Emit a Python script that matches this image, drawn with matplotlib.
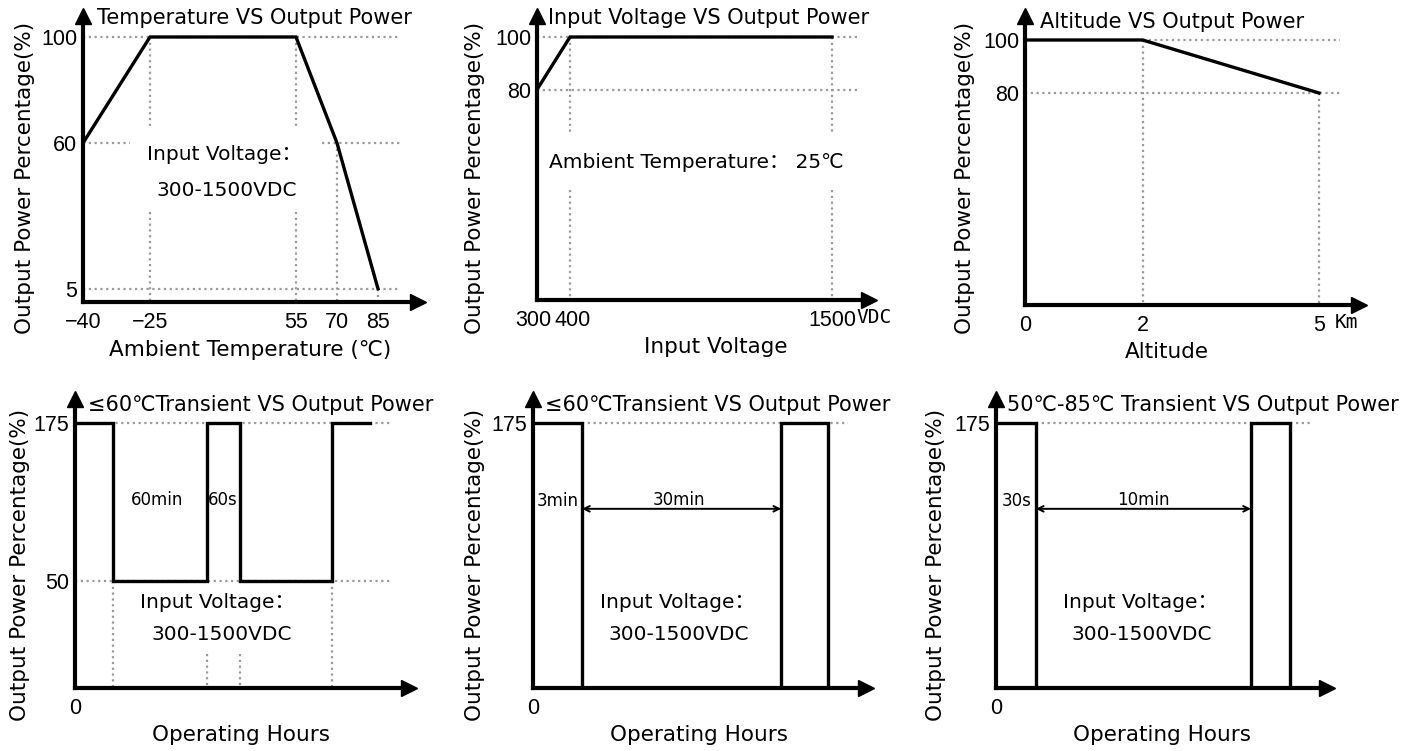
import numpy as np
import matplotlib.pyplot as plt
import matplotlib.transforms as mtransforms

W, H = 1416, 751

# ---------- DATA ----------
temp_x = [-40, -25, 55, 70, 85]
temp_y = [60, 100, 100, 60, 5]
temp_yticks = [5, 60, 100]

volt_x = [300, 400, 1500]
volt_y = [80, 100, 100]
volt_yticks = [80, 100]

alt_x = [0, 2, 5]
alt_y = [100, 100, 80]
alt_xticks = [0, 2, 5]
alt_yticks = [80, 100]

# transient profiles, schematic time units (step after each point)
tr1_t = [0, 1.0, 3.47, 4.34, 6.76, 7.76]
tr1_p = [175, 50, 175, 50, 175, 175]
tr1_notes = ["60min", "60s"]

tr2_t = [0, 1.29, 6.53, 7.76]
tr2_p = [175, 0, 175, 0]
tr2_notes = ["3min", "30min"]

tr3_t = [0, 1.05, 6.71, 7.74]
tr3_p = [175, 0, 175, 0]
tr3_notes = ["30s", "10min"]

tr_yticks = [50, 175]

# ---------- STYLE ----------
plt.rcParams['font.family'] = ['DejaVu Sans', 'Noto Sans CJK SC']
NUM_FONT = 'Liberation Sans'
MONO_FONT = 'DejaVu Sans Mono'
DOT = dict(color='#9a9a9a', lw=1.6, ls=(0, (1, 1.6)), zorder=1)
CURVE = dict(color='black', lw=2.4, zorder=3, solid_joinstyle='miter')
YLAB = "Output Power Percentage(%)"
TITLE_FS = 15
LABEL_FS = 15.5
NOTE_FS = 14.5


def px(x, y):
    return x / W, 1 - y / H


def knots(vals, pos):
    v = np.asarray(vals, float)
    p = np.asarray(pos, float)

    def ext(x, a, b):
        x = np.asarray(x, float)
        y = np.interp(x, a, b)
        s0 = (b[1] - b[0]) / (a[1] - a[0])
        s1 = (b[-1] - b[-2]) / (a[-1] - a[-2])
        y = np.where(x < a[0], b[0] + (x - a[0]) * s0, y)
        y = np.where(x > a[-1], b[-1] + (x - a[-1]) * s1, y)
        return y
    return (lambda x: ext(x, v, p)), (lambda x: ext(x, p, v))


def make_axes(fig, ox, oy, w, h):
    ax = fig.add_axes([ox / W, 1 - oy / H, w / W, h / H])
    for s in ['top', 'right']:
        ax.spines[s].set_visible(False)
    for s in ['left', 'bottom']:
        ax.spines[s].set_linewidth(3)
        ax.spines[s].set_capstyle('projecting')
    ax.plot(1, 0, '>k', ms=12, transform=ax.transAxes, clip_on=False)
    ax.plot(0, 1, '^k', ms=12, transform=ax.transAxes, clip_on=False)
    ax.tick_params(length=0, pad=4)
    ax.patch.set_alpha(0)
    return ax


def ticks(ax, xt, xl, yt, yl):
    ax.set_xticks(xt, xl, fontfamily=NUM_FONT, fontsize=15.5)
    ax.set_yticks(yt, yl, fontfamily=NUM_FONT, fontsize=15.5)
    ax.tick_params(axis='x', pad=7)
    ax.tick_params(axis='y', pad=4)


def nudge(label, dx_px):
    off = mtransforms.ScaledTranslation(dx_px / 100, 0, fig.dpi_scale_trans)
    label.set_transform(label.get_transform() + off)


fig = plt.figure(figsize=(W / 100, H / 100), dpi=100)

# ---------- PANEL 1: temperature ----------
w, h = 335, 286
ax = make_axes(fig, 83, 302, w, h)
fwd, inv = knots(temp_x, [0, 67, 213, 254, 295])
ax.set_xscale('function', functions=(fwd, inv))
ax.set_xlim(float(inv(0)), float(inv(w)))
ax.set_ylim(0, h / 2.65)
ax.plot(temp_x, temp_y, **CURVE)
end = 317 / w
ax.plot([0, end], [100, 100], transform=ax.get_yaxis_transform(), **DOT)
ax.plot([0, end], [5, 5], transform=ax.get_yaxis_transform(), **DOT)
ax.plot([0, 47 / w], [60, 60], transform=ax.get_yaxis_transform(), **DOT)
ax.plot([239 / w, end], [60, 60], transform=ax.get_yaxis_transform(), **DOT)
for x in [-25, 55]:
    ax.plot([x, x], [100, 66], **DOT)
    ax.plot([x, x], [34, 0], **DOT)
ax.plot([70, 70], [60, 0], **DOT)
ax.plot([85, 85], [5, 0], **DOT)
ticks(ax, temp_x, ["\u221240", "\u221225", "55", "70", "85"], temp_yticks,
      [str(v) for v in temp_yticks])
fig.text(*px(97, 18), "Temperature VS Output Power", fontsize=TITLE_FS, va='center')
fig.text(*px(25, 178), YLAB, fontsize=LABEL_FS, rotation=90, ha='center', va='center')
fig.text(*px(250, 350), "Ambient Temperature (\u2103)", fontsize=LABEL_FS, ha='center', va='center')
fig.text(*px(224, 155), "Input Voltage\uff1a", fontsize=NOTE_FS, ha='center', va='center')
fig.text(*px(227, 190), "300-1500VDC", fontsize=NOTE_FS, ha='center', va='center')

# ---------- PANEL 2: input voltage ----------
w, h = 332, 284
ax = make_axes(fig, 537, 300, w, h)
fwd, inv = knots(volt_x, [0, 33, 295])
ax.set_xscale('function', functions=(fwd, inv))
ax.set_xlim(float(inv(0)), float(inv(w)))
ax.set_ylim(0, h / 2.63)
ax.plot(volt_x, volt_y, **CURVE)
end = 321 / w
for y in volt_yticks:
    ax.plot([0, end], [y, y], transform=ax.get_yaxis_transform(), **DOT)
for x in volt_x[1:]:
    ax.plot([x, x], [100, 63], **DOT)
    ax.plot([x, x], [42, 0], **DOT)
ticks(ax, volt_x, ["300", "400", "1500"], volt_yticks, [str(v) for v in volt_yticks])
xl = ax.get_xticklabels()
nudge(xl[0], -4)
nudge(xl[1], 3)
ax.annotate("VDC", xy=(1500, 0), xycoords=('data', 'axes fraction'), xytext=(17.5, -6),
            textcoords='offset points', ha='left', va='top', fontsize=14,
            fontfamily=MONO_FONT)
fig.text(*px(548, 18), "Input Voltage VS Output Power", fontsize=TITLE_FS, va='center')
fig.text(*px(475, 178), YLAB, fontsize=LABEL_FS, rotation=90, ha='center', va='center')
fig.text(*px(716, 347), "Input Voltage", fontsize=LABEL_FS, ha='center', va='center')
fig.text(*px(549, 162), "Ambient Temperature\uff1a 25\u2103", fontsize=NOTE_FS, va='center')

# ---------- PANEL 3: altitude ----------
w, h = 334, 289
ax = make_axes(fig, 1025, 305, w, h)
ax.set_xlim(0, w / 58.8)
ax.set_ylim(0, h / 2.65)
ax.plot(alt_x, alt_y, **CURVE)
end = 315 / w
ax.plot([2 / (w / 58.8), end], [100, 100], transform=ax.get_yaxis_transform(), **DOT)
ax.plot([0, end], [80, 80], transform=ax.get_yaxis_transform(), **DOT)
ax.plot([2, 2], [100, 0], **DOT)
ax.plot([5, 5], [80, 0], **DOT)
ticks(ax, alt_xticks, [str(v) for v in alt_xticks], alt_yticks, [str(v) for v in alt_yticks])
ax.annotate("Km", xy=(5, 0), xycoords=('data', 'axes fraction'), xytext=(11, -6),
            textcoords='offset points', ha='left', va='top', fontsize=14,
            fontfamily=MONO_FONT)
fig.text(*px(1040, 22), "Altitude VS Output Power", fontsize=TITLE_FS, va='center')
fig.text(*px(965, 178), YLAB, fontsize=LABEL_FS, rotation=90, ha='center', va='center')
fig.text(*px(1167, 352), "Altitude", fontsize=LABEL_FS, ha='center', va='center')

# ---------- BOTTOM PANELS: transient ----------
tr_fwd, tr_inv = knots([0, 50, 175], [0, 107, 265])


def transient_axes(ox, w, h=289):
    ax = make_axes(fig, ox, 688, w, h)
    ax.set_yscale('function', functions=(tr_fwd, tr_inv))
    ax.set_ylim(0, float(tr_inv(h)))
    ax.set_xlim(0, w / 38)
    return ax


# panel 4
w = 334
ax = transient_axes(75, w)
ax.step(tr1_t, tr1_p, where='post', **CURVE)
end = 315 / w
ax.plot([0, end], [175, 175], transform=ax.get_yaxis_transform(), **DOT)
ax.plot([0, end], [50, 50], transform=ax.get_yaxis_transform(), **DOT)
ax.plot([tr1_t[1]] * 2, [50, 0], **DOT)
ax.plot([tr1_t[4]] * 2, [50, 0], **DOT)
for x in tr1_t[2:4]:
    ax.plot([x, x], [16, 0], **DOT)
ticks(ax, [0], ["0"], tr_yticks, [str(v) for v in tr_yticks])
fig.text(*px(88, 405), "\u226460\u2103Transient VS Output Power", fontsize=TITLE_FS, va='center')
fig.text(*px(20, 565), YLAB, fontsize=LABEL_FS, rotation=90, ha='center', va='center')
fig.text(*px(241, 735), "Operating Hours", fontsize=LABEL_FS, ha='center', va='center')
fig.text(*px(157, 500), tr1_notes[0], fontsize=12, ha='center', va='center')
fig.text(*px(223, 500), tr1_notes[1], fontsize=12, ha='center', va='center')
fig.text(*px(217, 602), "Input Voltage\uff1a", fontsize=NOTE_FS, ha='center', va='center')
fig.text(*px(222, 635), "300-1500VDC", fontsize=NOTE_FS, ha='center', va='center')


def pulse_panel(ox, w, t, p, notes, title, tx, ylx, xlx, note_x):
    ax = transient_axes(ox, w)
    ax.step(t, p, where='post', **CURVE)
    ax.plot([t[1] / (w / 38), 315 / w], [175, 175], transform=ax.get_yaxis_transform(), **DOT)
    ax.annotate("", xy=(t[1], 0.62), xytext=(t[2], 0.62),
                xycoords=('data', 'axes fraction'), textcoords=('data', 'axes fraction'),
                arrowprops=dict(arrowstyle='<->', color='black', lw=1.4,
                                shrinkA=0, shrinkB=0))
    ticks(ax, [0], ["0"], [175], ["175"])
    fig.text(*px(tx, 405), title, fontsize=TITLE_FS, va='center')
    fig.text(*px(ylx, 565), YLAB, fontsize=LABEL_FS, rotation=90, ha='center', va='center')
    fig.text(*px(xlx, 735), "Operating Hours", fontsize=LABEL_FS, ha='center', va='center')
    fig.text(*px(note_x[0], 501), notes[0], fontsize=12, ha='center', va='center')
    fig.text(*px(note_x[1], 500), notes[1], fontsize=12, ha='center', va='center')
    fig.text(*px(xlx - 22, 602), "Input Voltage\uff1a", fontsize=NOTE_FS, ha='center', va='center')
    fig.text(*px(xlx - 20, 635), "300-1500VDC", fontsize=NOTE_FS, ha='center', va='center')
    return ax


pulse_panel(533, 333, tr2_t, tr2_p, tr2_notes, "\u226460\u2103Transient VS Output Power",
            545, 475, 699, (558, 679))
pulse_panel(996, 331, tr3_t, tr3_p, tr3_notes, "50\u2103-85\u2103 Transient VS Output Power",
            1007, 936, 1162, (1017, 1143))

fig.savefig("out.png", dpi=100)
